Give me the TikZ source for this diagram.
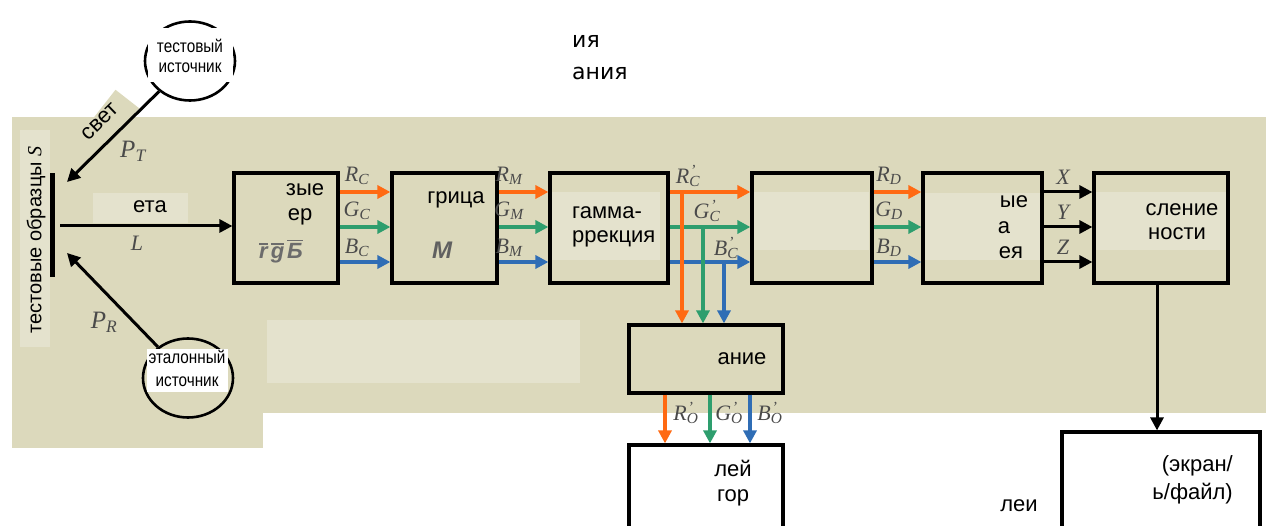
\documentclass[tikz,border=0pt]{standalone}
\usepackage{fontspec}
\setmainfont{Liberation Sans}
\newfontfamily\narrowfont{Liberation Sans}[FakeStretch=0.85]
\newfontfamily\topfont{DejaVu Sans}
\newfontfamily\serf{Liberation Serif}
\usetikzlibrary{arrows.meta,shapes.geometric}
\definecolor{bg}{HTML}{DCD9BC}
\definecolor{patch}{HTML}{E4E2CD}
\definecolor{oc}{HTML}{FF6A13}
\definecolor{gc}{HTML}{2E9E6E}
\definecolor{bc}{HTML}{2F6DB5}
\definecolor{lab}{HTML}{4A4A4A}
\newcommand\ob[1]{\leavevmode\vbox{\hrule height 1.3pt\kern2.5pt\hbox{\bfseries\itshape #1}}}
\newcommand\lb[2]{{\serf\itshape #1\textsubscript{#2}}}
\newcommand\lbp[2]{{\serf\itshape #1\rlap{\textsuperscript{\kern1pt ’}}\textsubscript{#2}}}
\begin{document}
\begin{tikzpicture}[x=1pt,y=-1pt,
  box/.style={draw=black,line width=3.2pt,inner sep=0pt},
  tip/.style={-{Triangle[length=13pt,width=13pt]}},
  oarr/.style={tip,draw=oc,line width=3.8pt},
  garr/.style={tip,draw=gc,line width=3.8pt},
  barrc/.style={tip,draw=bc,line width=3.8pt},
  barr/.style={tip,draw=black,line width=3pt},
  lbl/.style={text=lab,font=\fontsize{22}{24}\selectfont,inner sep=0pt},
  txt/.style={font=\fontsize{22}{24}\selectfont,inner sep=0pt},
  ctxt/.style={font=\narrowfont\fontsize{18}{20}\selectfont,inner sep=0pt},
  src/.style={ellipse,draw=black,line width=2.6pt,minimum width=90pt,minimum height=79pt,inner sep=0pt}
]
\useasboundingbox (0,0) rectangle (1266,526);
\clip (0,0) rectangle (1266,526);
% backgrounds
\fill[bg] (12,117) rectangle (1266,413);
\fill[bg] (12,413) rectangle (263,448);
\fill[bg,rotate around={52:(107,125)}] (74,110) rectangle (140,140);
\fill[patch] (267,320) rectangle (580,383);
\fill[patch] (20,130) rectangle (50,347);
\fill[patch] (93,193) rectangle (188,223);
\fill[patch] (552,192) rectangle (660,260);
\fill[patch] (753,192) rectangle (869,250);
\fill[patch] (925,193) rectangle (1040,260);
\fill[patch] (1095,192) rectangle (1226,250);

% light sources
\node[src] (ts) at (190,61) {};
\node[src] (rs) at (188,378) {};
\fill[white] (148,28) rectangle (233,82);
\fill[white] (147,349) rectangle (228,392);
\node[ctxt,anchor=base] (ts1) at (190,53) {тестовый};
\node[ctxt,anchor=base] (ts2) at (190,73) {источник};
\node[ctxt,anchor=base] (rs1) at (187,364) {эталонный};
\node[ctxt,anchor=base] (rs2) at (187,386) {источник};

% samples
\node[fill=black,minimum width=5pt,minimum height=104pt,inner sep=0pt] (bar) at (52,225) {};
\node[txt,rotate=90,font=\fontsize{20}{24}\selectfont] (samp) at (36,240) {тестовые образцы {\serf\itshape S}};
\node[txt,rotate=44] (svet) at (100,122) {свет};

\coordinate (ptEnd) at (67,182);
\coordinate (prEnd) at (67,253);
\coordinate (lStart) at (60,226);
\draw[barr] (ts) -- (ptEnd);
\draw[barr] (rs) -- (prEnd);

% boxes
\node[box,minimum width=104pt,minimum height=110pt] (b1) at (286,228) {};
\node[box,minimum width=105pt,minimum height=110pt] (b2) at (444.5,228) {};
\node[box,minimum width=118pt,minimum height=110pt] (b3) at (609,228) {};
\node[box,minimum width=120pt,minimum height=110pt] (b4) at (812,228) {};
\node[box,minimum width=119pt,minimum height=110pt] (b5) at (982.5,228) {};
\node[box,minimum width=134pt,minimum height=110pt] (b6) at (1161,228) {};
\node[box,minimum width=154pt,minimum height=68pt] (b7) at (706,359) {};
\node[box,fill=white,minimum width=154pt,minimum height=100pt] (b8) at (706,495) {};
\node[box,fill=white,minimum width=198pt,minimum height=110pt] (b9) at (1161,487) {};

\draw[barr] (lStart) -- (b1.west |- lStart);

% box texts
\node[txt,anchor=base] (t1a) at (305,196) {зые};
\node[txt,anchor=base] (t1b) at (300,221) {ер};
\node[lbl,anchor=base,text=gray!85!black] (t1c) at (281,259) {\ob{r}\kern3pt\ob{g}\kern3pt\ob{Б}};
\node[lbl,anchor=base,font=\fontsize{24}{24}\selectfont\bfseries\itshape,text=gray!75!black] (t2b) at (442,259) {M};
\node[txt,anchor=base] (t2a) at (456,204) {грица};
\node[txt,anchor=base west] (t3a) at (572,219) {гамма-};
\node[txt,anchor=base west] (t3b) at (572,243) {ррекция};
\node[txt,anchor=base] (t5a) at (1014,208) {ые};
\node[txt,anchor=base] (t5b) at (1004,234) {а};
\node[txt,anchor=base] (t5c) at (1011,259) {ея};
\node[txt,anchor=base] (t6a) at (1182,216) {сление};
\node[txt,anchor=base] (t6b) at (1177,240) {ности};
\node[txt,anchor=base] (t7) at (742,365) {ание};
\node[txt,anchor=base] (t8a) at (733,476) {лей};
\node[txt,anchor=base] (t8b) at (733,501) {гор};
\node[txt,anchor=base east] (t9a) at (1233,471) {(экран/};
\node[txt,anchor=base east] (t9b) at (1233,499) {ь/файл)};
\node[txt,anchor=base] (lei) at (1019,511) {леи};
\node[txt,anchor=base] (eta) at (150,213) {ета};
\node[txt,anchor=base west,font=\topfont\fontsize{22}{24}\selectfont] (top1) at (572,48) {ия};
\node[txt,anchor=base west,font=\topfont\fontsize{22}{24}\selectfont] (top2) at (572,80) {ания};

% channel arrows
\foreach \a/\b in {b1/b2,b2/b3,b3/b4,b4/b5}{
  \draw[oarr] (\a.east |- 0,192) -- (\b.west |- 0,192);
  \draw[garr] (\a.east |- 0,227) -- (\b.west |- 0,227);
  \draw[barrc] (\a.east |- 0,262) -- (\b.west |- 0,262);
}
\draw[barr] (b5.east |- 0,192) -- (b6.west |- 0,192);
\draw[barr] (b5.east |- 0,227) -- (b6.west |- 0,227);
\draw[barr] (b5.east |- 0,262) -- (b6.west |- 0,262);

\coordinate (jR) at (682,192);
\coordinate (jG) at (703,227);
\coordinate (jB) at (724,262);
\draw[oarr] (jR) -- (jR |- b7.north);
\draw[garr] (jG) -- (jG |- b7.north);
\draw[barrc] (jB) -- (jB |- b7.north);

\draw[oarr] (b7.south -| 665,0) -- (b8.north -| 665,0);
\draw[garr] (b7.south -| 710,0) -- (b8.north -| 710,0);
\draw[barrc] (b7.south -| 750,0) -- (b8.north -| 750,0);

\draw[barr] (b6.south -| 1157,0) -- (b9.north -| 1157,0);

% labels
\node[lbl,font=\fontsize{25}{26}\selectfont] (lPT) at (133,151) {\lb{P}{T}};
\node[lbl,font=\fontsize{25}{26}\selectfont] (lPR) at (104,322) {\lb{P}{R}};
\node[lbl] (lL) at (137,243) {{\serf\itshape L}};
\node[lbl] (lRC) at (357,176) {\lb{R}{C}};
\node[lbl] (lGC) at (357,211) {\lb{G}{C}};
\node[lbl] (lBC) at (357,248) {\lb{B}{C}};
\node[lbl] (lRM) at (509,176) {\lb{R}{M}};
\node[lbl] (lGM) at (509,211) {\lb{G}{M}};
\node[lbl] (lBM) at (509,248) {\lb{B}{M}};
\node[lbl] (lRC2) at (688,176) {\lbp{R}{C}};
\node[lbl] (lGC2) at (707,211) {\lbp{G}{C}};
\node[lbl] (lBC2) at (726,248) {\lbp{B}{C}};
\node[lbl] (lRD) at (889,176) {\lb{R}{D}};
\node[lbl] (lGD) at (889,211) {\lb{G}{D}};
\node[lbl] (lBD) at (889,248) {\lb{B}{D}};
\node[lbl] (lX) at (1063,177) {{\serf\itshape X}};
\node[lbl] (lY) at (1063,212) {{\serf\itshape Y}};
\node[lbl] (lZ) at (1063,247) {{\serf\itshape Z}};
\node[lbl] (lRO) at (686,413) {\lbp{R}{O}};
\node[lbl] (lGO) at (729,413) {\lbp{G}{O}};
\node[lbl] (lBO) at (770,413) {\lbp{B}{O}};
\end{tikzpicture}
\end{document}
